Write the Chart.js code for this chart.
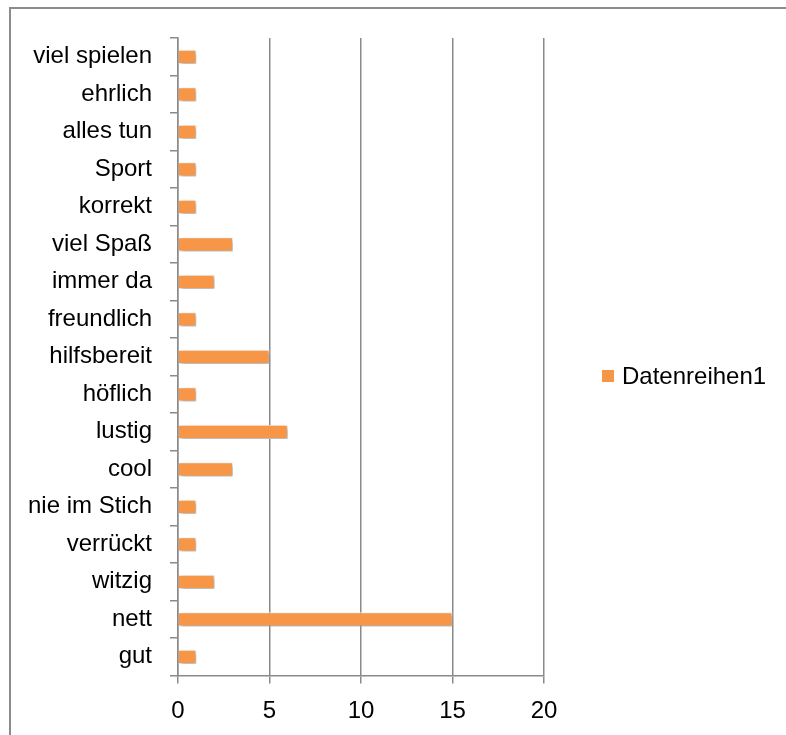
<!DOCTYPE html>
<html>
<head>
<meta charset="utf-8">
<script src="https://cdn.jsdelivr.net/npm/chart.js@4"></script>
<style>
html,body{margin:0;padding:0;background:#fff;overflow:hidden;}
#wrap{position:absolute;left:0;top:0;width:786px;height:735px;}
</style>
</head>
<body>
<div id="wrap"><canvas id="c" width="786" height="735"></canvas></div>
<script>
const categories = ["viel spielen","ehrlich","alles tun","Sport","korrekt","viel Spaß","immer da","freundlich","hilfsbereit","höflich","lustig","cool","nie im Stich","verrückt","witzig","nett","gut"];
const values = [1,1,1,1,1,3,2,1,5,1,6,3,1,1,2,15,1];
const seriesName = "Datenreihen1";
const xTicks = [0,5,10,15,20];

const FONT = "'Liberation Sans', Arial, sans-serif";
const GRID = '#8a8a8a';
const ORANGE = '#F79646';

const framePlugin = {
  id: 'frame',
  beforeDraw(chart) {
    const ctx = chart.ctx;
    ctx.save();
    ctx.fillStyle = '#fff';
    ctx.fillRect(0, 0, chart.width, chart.height);
    ctx.strokeStyle = '#8c8c8c';
    ctx.lineWidth = 2;
    ctx.strokeRect(10, 8, 900, 900);
    ctx.restore();
  }
};

const shadowPlugin = {
  id: 'barShadow',
  beforeDatasetsDraw(chart) {
    const ctx = chart.ctx;
    ctx.save();
    ctx.shadowColor = 'rgba(0,0,0,0.35)';
    ctx.shadowBlur = 4;
    ctx.shadowOffsetX = 2;
    ctx.shadowOffsetY = 2;
  },
  afterDatasetsDraw(chart) {
    chart.ctx.restore();
  }
};

const legendPlugin = {
  id: 'sideLegend',
  afterDraw(chart) {
    const ctx = chart.ctx;
    const ds = chart.data.datasets[0];
    ctx.save();
    ctx.fillStyle = ds.backgroundColor;
    ctx.fillRect(602, 370, 12, 12);
    ctx.fillStyle = '#000';
    ctx.font = '24px ' + FONT;
    ctx.textBaseline = 'middle';
    ctx.textAlign = 'left';
    ctx.fillText(ds.label, 622, 377);
    ctx.restore();
  }
};

new Chart(document.getElementById('c'), {
  type: 'bar',
  data: {
    labels: categories,
    datasets: [{
      label: seriesName,
      data: values,
      backgroundColor: ORANGE,
      borderColor: '#ffffff',
      borderWidth: 1,
      barPercentage: 0.38,
      categoryPercentage: 1.0
    }]
  },
  options: {
    indexAxis: 'y',
    responsive: false,
    animation: false,
    devicePixelRatio: 1,
    layout: { padding: { top: 38, right: 242, bottom: 0, left: 0 } },
    plugins: { legend: { display: false }, tooltip: { enabled: false } },
    scales: {
      x: {
        min: 0, max: 20,
        afterBuildTicks(axis) { axis.ticks = xTicks.map(v => ({ value: v })); },
        afterFit(axis) { axis.height = 59.5; },
        grid: { color: GRID, lineWidth: 1.5, tickLength: 8, drawOnChartArea: true },
        border: { display: true, color: GRID, width: 1.5 },
        ticks: { color: '#000', font: { family: FONT, size: 24 }, padding: 13, maxRotation: 0 }
      },
      y: {
        afterFit(axis) { axis.width = 178; },
        grid: { offset: true, drawOnChartArea: false, color: GRID, lineWidth: 1.5, tickLength: 8 },
        border: { display: true, color: GRID, width: 1.5 },
        ticks: { color: '#000', font: { family: FONT, size: 24 }, padding: 18, autoSkip: false }
      }
    }
  },
  plugins: [framePlugin, shadowPlugin, legendPlugin]
});
</script>
</body>
</html>
